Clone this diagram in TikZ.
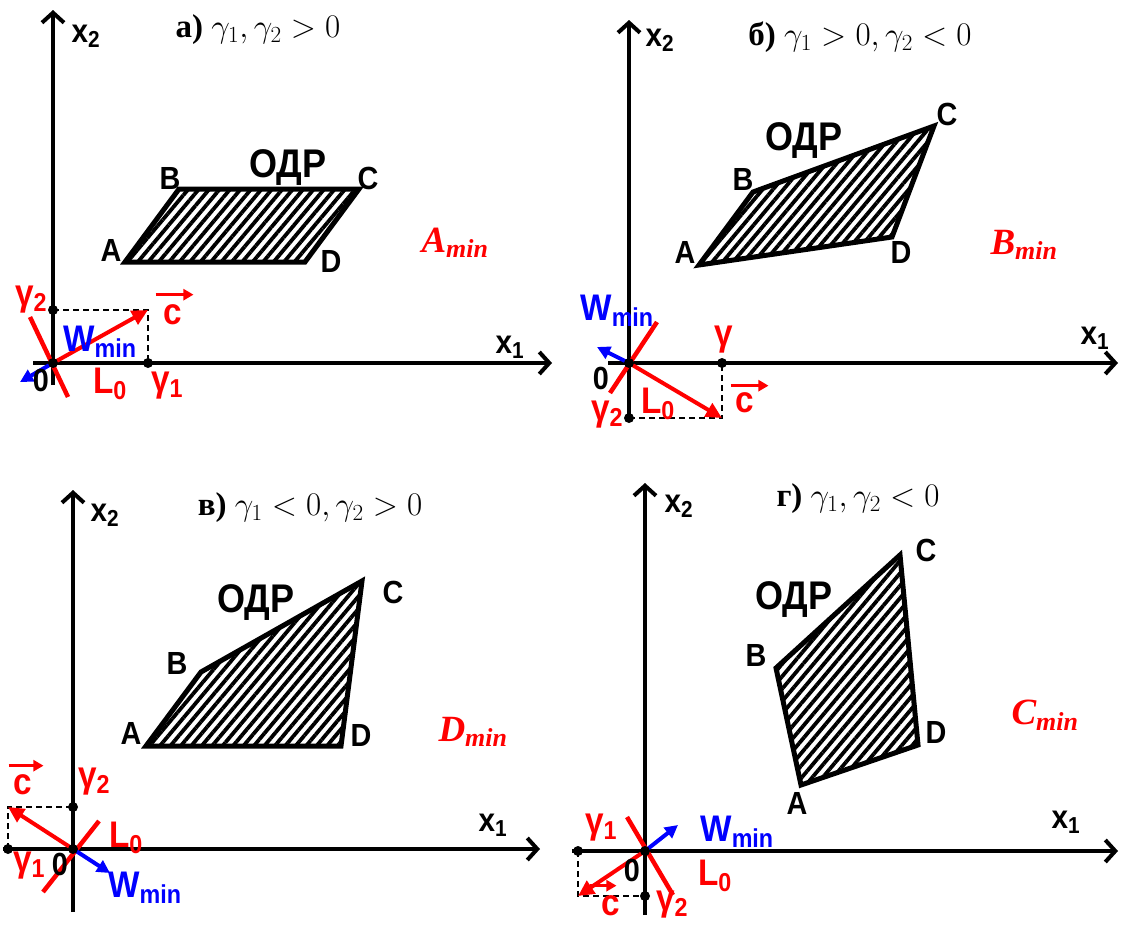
\RequirePackage{fix-cm}
\documentclass[tikz,border=0pt]{standalone}
\usepackage{fontspec}
\setmainfont{Liberation Serif}
\newfontfamily\labfont[FakeStretch=0.9]{Liberation Sans}
\usepackage{tikz}
\usetikzlibrary{arrows.meta, patterns.meta}
\tikzset{
	axis/.style={line width=4pt, -{Straight Barb[length=10pt,width=22pt]}}
}
\tikzset{
	region/.style={line width=5pt, pattern={Lines[angle=50,distance=8pt,line width=3.8pt]}}
}
\tikzset{
	guide/.style={line width=1.5pt, dash pattern=on 6pt off 4pt},
	cvec/.style={red, line width=4pt, -{Triangle[length=16pt,width=15pt]}},
	wvec/.style={blue, line width=4pt, -{Triangle[length=13pt,width=13pt]}},
	lzero/.style={red, line width=4.5pt},
	overarr/.style={red, line width=3pt, -{Triangle[length=10pt,width=11pt]}}
}
\tikzset{
	axislabel/.style={inner sep=0pt, font=\labfont\bfseries\fontsize{33}{33}\selectfont},
	vertexlabel/.style={inner sep=0pt, font=\labfont\bfseries\fontsize{32}{32}\selectfont},
	regiontext/.style={inner sep=0pt, font=\labfont\bfseries\fontsize{40}{40}\selectfont},
	redlabel/.style={inner sep=0pt, text=red, font=\labfont\bfseries\fontsize{37}{37}\selectfont},
	bluelabel/.style={inner sep=0pt, text=blue, font=\labfont\bfseries\fontsize{37}{37}\selectfont},
	titletext/.style={inner sep=0pt, font=\fontsize{33}{33}\selectfont},
	mintext/.style={inner sep=0pt, text=red, font=\bfseries\itshape\fontsize{37}{37}\selectfont}
}
\begin{document}
\begin{tikzpicture}[x=1pt, y=-1pt]
  \useasboundingbox (0,0) rectangle (1122,924);

  % а) gamma1, gamma2 > 0
  \coordinate (aO) at (53,363);
  \coordinate (aXl) at (33,363);
  \coordinate (aXr) at (552,363);
  \coordinate (aYb) at (53,385);
  \coordinate (aYt) at (53,10);
  \coordinate (aG1) at (148,363);
  \coordinate (aG2) at (53,310);
  \coordinate (aP) at (148,310);
  \coordinate (aL1) at (30,317);
  \coordinate (aL2) at (68,397);
  \coordinate (aW) at (20,382);
  \coordinate (aA) at (125,262);
  \coordinate (aB) at (179,189);
  \coordinate (aC) at (359,189);
  \coordinate (aD) at (305,262);
  \draw[axis] (aXl) -- (aXr);
  \draw[axis] (aYb) -- (aYt);
  \draw[region] (aA) -- (aB) -- (aC) -- (aD) -- cycle;
  \draw[guide] (aG2) -- (aP) -- (aG1);
  \draw[cvec] (aO) -- (aP);
  \draw[lzero] (aL1) -- (aL2);
  \draw[wvec] (aO) -- (aW);
  \foreach \p in {aO,aG1,aG2} \fill (\p) circle (5pt);
  \node[axislabel] (ax1) at (510,347) {x\textsubscript{1}};
  \node[axislabel] (ax2) at (86,36) {x\textsubscript{2}};
  \node[titletext] (atitle) at (258,30) {\textbf{а)} $\gamma_1,\gamma_2>0$};
  \node[vertexlabel] (aAl) at (111,250) {A};
  \node[vertexlabel] (aBl) at (170,178) {B};
  \node[vertexlabel] (aCl) at (368,178) {C};
  \node[vertexlabel] (aDl) at (331,261) {D};
  \node[regiontext] (aodr) at (288,168) {ОДР};
  \node[mintext] (amin) at (455,243) {A\textsubscript{min}};
  \node[redlabel] (ag2) at (31,300) {γ\textsubscript{2}};
  \node[bluelabel] (awmin) at (100,342) {W\textsubscript{min}};
  \node[vertexlabel] (azero) at (41,380) {0};
  \node[redlabel] (alzero) at (110,384) {L\textsubscript{0}};
  \node[redlabel] (ag1) at (167,386) {γ\textsubscript{1}};
  \node[redlabel] (ac) at (173,315) {c};
  \draw[overarr] ([shift={(-8pt,10pt)}]ac.north west) -- ([shift={(11pt,10pt)}]ac.north east);

  % б) gamma1 > 0, gamma2 < 0
  \coordinate (bO) at (629,363);
  \coordinate (bXl) at (608,363);
  \coordinate (bXr) at (1118,363);
  \coordinate (bYb) at (629,420);
  \coordinate (bYt) at (629,20);
  \coordinate (bG1) at (722,363);
  \coordinate (bG2) at (629,418);
  \coordinate (bP) at (722,418);
  \coordinate (bL1) at (610,393);
  \coordinate (bL2) at (657,322);
  \coordinate (bW) at (597,347);
  \coordinate (bA) at (699,265);
  \coordinate (bB) at (753,192);
  \coordinate (bC) at (934,126);
  \coordinate (bD) at (892,237);
  \draw[axis] (bXl) -- (bXr);
  \draw[axis] (bYb) -- (bYt);
  \draw[region] (bA) -- (bB) -- (bC) -- (bD) -- cycle;
  \draw[guide] (bG2) -- (bP) -- (bG1);
  \draw[cvec] (bO) -- (bP);
  \draw[lzero] (bL1) -- (bL2);
  \draw[wvec] (bO) -- (bW);
  \foreach \p in {bO,bG1,bG2} \fill (\p) circle (5pt);
  \node[axislabel] (bx1) at (1095,338) {x\textsubscript{1}};
  \node[axislabel] (bx2) at (660,40) {x\textsubscript{2}};
  \node[titletext] (btitle) at (860,37) {\textbf{б)} $\gamma_1>0,\gamma_2<0$};
  \node[vertexlabel] (bAl) at (685,252) {A};
  \node[vertexlabel] (bBl) at (743,179) {B};
  \node[vertexlabel] (bCl) at (947,114) {C};
  \node[vertexlabel] (bDl) at (901,252) {D};
  \node[regiontext] (bodr) at (804,141) {ОДР};
  \node[mintext] (bmin) at (1024,245) {B\textsubscript{min}};
  \node[bluelabel] (bwmin) at (617,311) {W\textsubscript{min}};
  \node[redlabel] (bg1) at (724,340) {γ};
  \node[vertexlabel] (bzero) at (601,378) {0};
  \node[redlabel] (bg2) at (607,415) {γ\textsubscript{2}};
  \node[redlabel] (blzero) at (658,404) {L\textsubscript{0}};
  \node[redlabel] (bc) at (745,403) {c};
  \draw[overarr] ([shift={(-5pt,7pt)}]bc.north west) -- ([shift={(14pt,7pt)}]bc.north east);

  % в) gamma1 < 0, gamma2 > 0
  \coordinate (vO) at (73,849);
  \coordinate (vXl) at (3,849);
  \coordinate (vXr) at (540,849);
  \coordinate (vYb) at (73,912);
  \coordinate (vYt) at (73,490);
  \coordinate (vG1) at (8,849);
  \coordinate (vG2) at (73,807);
  \coordinate (vP) at (8,807);
  \coordinate (vL1) at (43,892);
  \coordinate (vL2) at (99,821);
  \coordinate (vW) at (110,873);
  \coordinate (vA) at (146,746);
  \coordinate (vB) at (201,672);
  \coordinate (vC) at (362,581);
  \coordinate (vD) at (341,746);
  \draw[axis] (vXl) -- (vXr);
  \draw[axis] (vYb) -- (vYt);
  \draw[region] (vA) -- (vB) -- (vC) -- (vD) -- cycle;
  \draw[guide] (vG1) -- (vP) -- (vG2);
  \draw[cvec] (vO) -- (vP);
  \draw[lzero] (vL1) -- (vL2);
  \draw[wvec] (vO) -- (vW);
  \foreach \p in {vO,vG1,vG2} \fill (\p) circle (5pt);
  \node[axislabel] (vx1) at (493,825) {x\textsubscript{1}};
  \node[axislabel] (vx2) at (105,515) {x\textsubscript{2}};
  \node[titletext] (vtitle) at (310,508) {\textbf{в)} $\gamma_1<0,\gamma_2>0$};
  \node[vertexlabel] (vAl) at (131,733) {A};
  \node[vertexlabel] (vBl) at (177,663) {B};
  \node[vertexlabel] (vCl) at (393,592) {C};
  \node[vertexlabel] (vDl) at (361,735) {D};
  \node[regiontext] (vodr) at (256,603) {ОДР};
  \node[mintext] (vmin) at (473,732) {D\textsubscript{min}};
  \node[redlabel] (vc) at (23,785) {c};
  \draw[overarr] ([shift={(-5pt,9pt)}]vc.north west) -- ([shift={(11pt,9pt)}]vc.north east);
  \node[redlabel] (vg2) at (94,782) {γ\textsubscript{2}};
  \node[redlabel] (vlzero) at (126,838) {L\textsubscript{0}};
  \node[redlabel] (vg1) at (29,866) {γ\textsubscript{1}};
  \node[vertexlabel] (vzero) at (60,864) {0};
  \node[bluelabel] (vwmin) at (145,888) {W\textsubscript{min}};

  % г) gamma1, gamma2 < 0
  \coordinate (gO) at (645,851);
  \coordinate (gXl) at (572,851);
  \coordinate (gXr) at (1118,851);
  \coordinate (gYb) at (645,915);
  \coordinate (gYt) at (645,483);
  \coordinate (gG1) at (578,851);
  \coordinate (gG2) at (645,896);
  \coordinate (gP) at (578,896);
  \coordinate (gL1) at (627,817);
  \coordinate (gL2) at (673,895);
  \coordinate (gW) at (678,825);
  \coordinate (gA) at (801,785);
  \coordinate (gB) at (776,668);
  \coordinate (gC) at (900,555);
  \coordinate (gD) at (918,745);
  \draw[axis] (gXl) -- (gXr);
  \draw[axis] (gYb) -- (gYt);
  \draw[region] (gA) -- (gB) -- (gC) -- (gD) -- cycle;
  \draw[guide] (gG1) -- (gP) -- (gG2);
  \draw[cvec] (gO) -- (gP);
  \draw[lzero] (gL1) -- (gL2);
  \draw[wvec] (gO) -- (gW);
  \foreach \p in {gO,gG1,gG2} \fill (\p) circle (5pt);
  \node[axislabel] (gx1) at (1066,822) {x\textsubscript{1}};
  \node[axislabel] (gx2) at (679,506) {x\textsubscript{2}};
  \node[titletext] (gtitle) at (858,499) {\textbf{г)} $\gamma_1,\gamma_2<0$};
  \node[vertexlabel] (gAl) at (797,803) {A};
  \node[vertexlabel] (gBl) at (756,655) {B};
  \node[vertexlabel] (gCl) at (926,550) {C};
  \node[vertexlabel] (gDl) at (936,732) {D};
  \node[regiontext] (godr) at (794,600) {ОДР};
  \node[mintext] (gmin) at (1045,715) {C\textsubscript{min}};
  \node[redlabel] (gg1) at (601,828) {γ\textsubscript{1}};
  \node[bluelabel] (gwmin) at (737,832) {W\textsubscript{min}};
  \node[vertexlabel] (gzero) at (632,870) {0};
  \node[redlabel] (glzero) at (715,876) {L\textsubscript{0}};
  \node[redlabel] (gc) at (611,906) {c};
  \draw[overarr] ([shift={(-12pt,10pt)}]gc.north west) -- ([shift={(-4pt,10pt)}]gc.north east);
  \node[redlabel] (gg2) at (672,905) {γ\textsubscript{2}};
\end{tikzpicture}
\end{document}
